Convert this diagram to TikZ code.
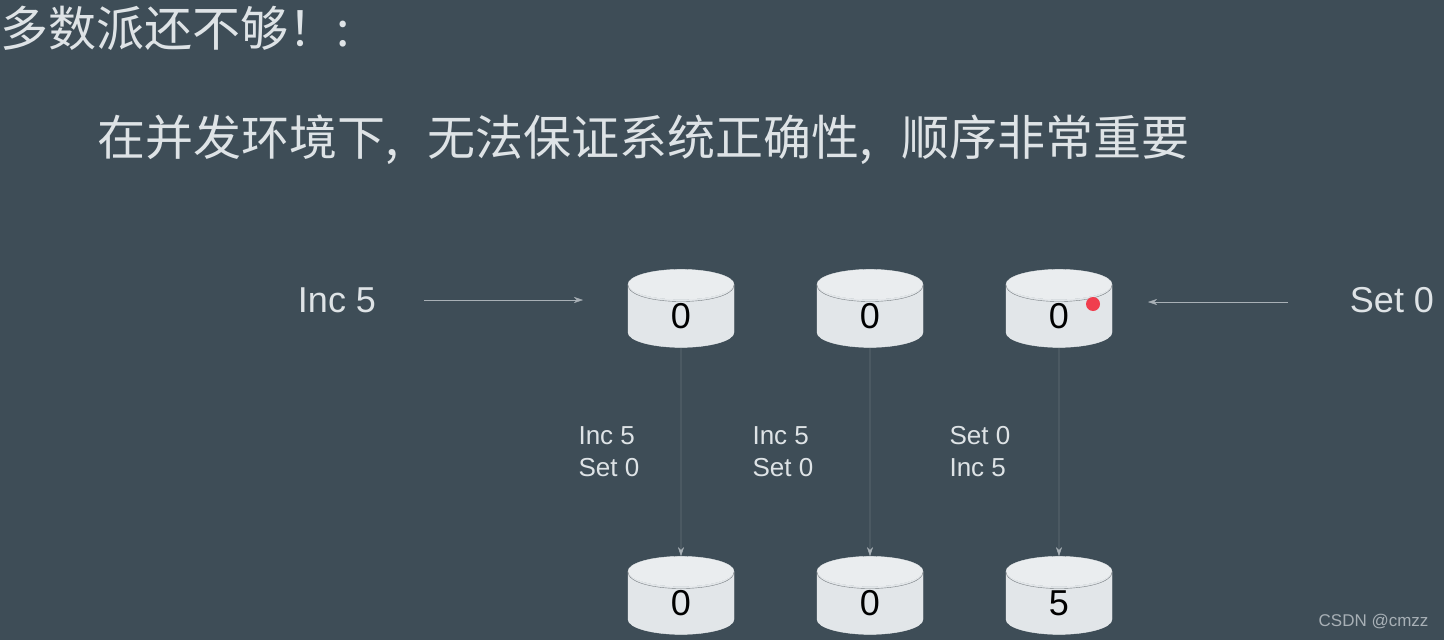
\documentclass[tikz,border=0pt]{standalone}
\usepackage{fontspec}
\setmainfont{Liberation Sans}
\newfontfamily\cjk{Noto Sans CJK SC}
\usetikzlibrary{shapes.geometric, arrows.meta, positioning}
\definecolor{slate}{RGB}{62, 77, 87}
\definecolor{softwhite}{RGB}{222, 227, 230}
\definecolor{diskbody}{RGB}{226, 230, 233}
\definecolor{disktop}{RGB}{234, 237, 239}
\definecolor{wire}{RGB}{168, 176, 182}
\definecolor{rim}{RGB}{120, 126, 130}
\definecolor{reddot}{RGB}{240, 62, 78}

\begin{document}
\begin{tikzpicture}[
            x=1pt, y=-1pt,
            disk/.style={cylinder, shape border rotate=90, aspect=1.5, minimum width=106pt, minimum height=78pt, draw=disktop, cylinder uses custom fill, cylinder body fill=diskbody, cylinder end fill=disktop, inner sep=0pt, font=\fontsize{36}{36}\selectfont},
            op/.style={text=softwhite, font=\fontsize{36}{36}\selectfont},
            oplist/.style={text=softwhite, align=left, font=\fontsize{26}{32}\selectfont, anchor=west},
            arrow/.style={-{Stealth[length=9pt, width=6pt]}, thin, wire}
        ]
            \fill[slate] (0,0) rectangle (1444,640);
            \useasboundingbox (0,0) rectangle (1444,640);

            \node[anchor=west, text=softwhite, font=\cjk\fontsize{48}{48}\selectfont, inner sep=0pt] (title) at (0,28) {多数派还不够！:};
            \node[anchor=west, text=softwhite, font=\cjk\fontsize{48}{48}\selectfont, inner sep=0pt] (subtitle) at (97,140) {在并发环境下,\hspace{0.6em}无法保证系统正确性,\hspace{0.6em}顺序非常重要};

            % replicas before
            \node[disk] (top1) at (681,316) {\raisebox{-9pt}{0}};
            \node[disk] (top2) at (870,316) {\raisebox{-9pt}{0}};
            \node[disk] (top3) at (1059,316) {\raisebox{-9pt}{0}};

            % replicas after
            \node[disk] (bot1) at (681,603) {\raisebox{-9pt}{0}};
            \node[disk] (bot2) at (870,603) {\raisebox{-9pt}{0}};
            \node[disk] (bot3) at (1059,603) {\raisebox{-9pt}{5}};

            % front rim of each lid
            \foreach \n in {top1, top2, top3, bot1, bot2, bot3}
                \draw[rim, thin] (\n.before top) to[out=-90, in=-90, looseness=0.55] (\n.after top);
            \fill[reddot] (1093,304) circle (7);

            % client requests
            \node[op] (inc) at (337,300) {Inc 5};
            \node[op] (set) at (1392,300) {Set 0};
            \coordinate (incend) at (583,300);
            \coordinate (setend) at (1148,302);
            \draw[arrow] (424,300) -- (incend);
            \draw[arrow] (1288,302) -- (setend);

            \draw[arrow] (top1) -- (bot1);
            \draw[arrow] (top2) -- (bot2);
            \draw[arrow] (top3) -- (bot3);

            \node[oplist] (ord1) at (575,452) {Inc 5\\Set 0};
            \node[oplist] (ord2) at (749,452) {Inc 5\\Set 0};
            \node[oplist] (ord3) at (946,452) {Set 0\\Inc 5};

            \node[anchor=east, text=wire, font=\fontsize{17}{17}\selectfont] (mark) at (1432,622) {CSDN @cmzz};
        \end{tikzpicture}
\end{document}
